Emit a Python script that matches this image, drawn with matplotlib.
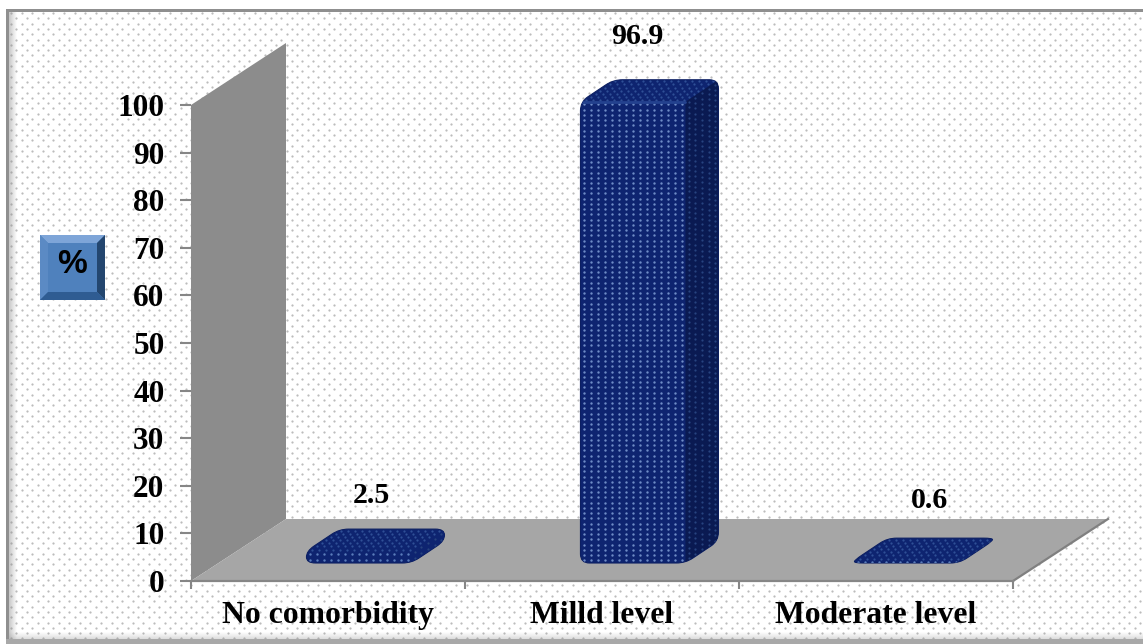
import numpy as np
import matplotlib
matplotlib.use("Agg")
import matplotlib.pyplot as plt
from matplotlib.patches import Polygon, Rectangle, PathPatch
from matplotlib.path import Path

categories = ["No comorbidity", "Milld level", "Moderate level"]
percent = [2.5, 96.9, 0.6]
y_ticks = list(range(0, 101, 10))

W, H = 1143, 644
SERIF = "Liberation Serif"

# 3D-look geometry, in data units of the front plane (px / 274 per category, px / 4.76 per percent)
PX_X = 274.0
PX_Y = 4.76
WALL_DX = 95 / PX_X
WALL_DY = 62 / PX_Y
BAR_W = 105 / PX_X
BAR_DX = 33 / PX_X
BAR_DY = 22 / PX_Y
BAR_SHIFT = 0.113
BAR_BASE = 18 / PX_Y
CORNER = 9.0

# label offsets from the back-left corner of each bar top, in points
label_offsets = [(23, 24.5), (17, 31), (30, 27)]

fig = plt.figure(figsize=(W / 100, H / 100), dpi=100, facecolor="white")

# page background: dotted fill plus frame, drawn in pixels
bg = fig.add_axes([0, 0, 1, 1], zorder=0)
bg.set_xlim(0, W)
bg.set_ylim(H, 0)
bg.axis("off")

dx_bg, dy_bg = 10.6, 5.3
rows = np.arange(13, 640, dy_bg)
xs, ys = [], []
for k, yy in enumerate(rows):
    col = np.arange(11 + (k % 2) * dx_bg / 2, W, dx_bg)
    xs.extend(col)
    ys.extend([yy] * len(col))
bg.scatter(xs, ys, s=2.6, color="#bcbcbc", linewidths=0)

# soft inner shadow along the left and bottom edge
for i, a in enumerate(np.linspace(0.45, 0.03, 8)):
    bg.add_patch(Rectangle((9 + i, 10), 1, 630, color="#8a8a8a", alpha=a, lw=0))
    bg.add_patch(Rectangle((9, 639 - i), W, 1, color="#8a8a8a", alpha=a * 0.7, lw=0))
bg.add_patch(Rectangle((6, 9), 3, 631, color="#8f8f8f", lw=0))
bg.add_patch(Rectangle((6, 9), W, 3, color="#8f8f8f", lw=0))
bg.add_patch(Rectangle((6, 639), W, 5, color="#a8a8a8", lw=0))

# "%" badge with bevelled edges
bx0, by0, bx1, by1, bev = 40, 235, 105, 300, 8
bg.add_patch(Rectangle((bx0, by0), bx1 - bx0, by1 - by0, color="#4f81bd", lw=0))
bg.add_patch(Polygon([(bx0, by0), (bx1, by0), (bx1 - bev, by0 + bev), (bx0 + bev, by0 + bev)], color="#7ea5d8", lw=0))
bg.add_patch(Polygon([(bx0, by0), (bx0 + bev, by0 + bev), (bx0 + bev, by1 - bev), (bx0, by1)], color="#5b8ac4", lw=0))
bg.add_patch(Polygon([(bx1, by0), (bx1, by1), (bx1 - bev, by1 - bev), (bx1 - bev, by0 + bev)], color="#23466f", lw=0))
bg.add_patch(Polygon([(bx0, by1), (bx1, by1), (bx1 - bev, by1 - bev), (bx0 + bev, by1 - bev)], color="#2f5c92", lw=0))
bg.text(72, 264, "%", fontsize=24, fontweight="bold", family="Liberation Sans",
        ha="center", va="center", color="black")

# chart axes sit on the front plane of the 3D box
left, right, bottom, top = 191, 1013, 581, 105
ax = fig.add_axes([left / W, 1 - bottom / H, (right - left) / W, (bottom - top) / H], zorder=1)
ax.patch.set_visible(False)
ax.set_xlim(0, 3)
ax.set_ylim(0, 100)
ax.set_autoscale_on(False)

for side in ["top", "right", "left"]:
    ax.spines[side].set_visible(False)
ax.spines["bottom"].set_color("#868686")
ax.spines["bottom"].set_linewidth(1.6)

ax.set_yticks(y_ticks)
ax.set_yticklabels([str(v) for v in y_ticks], fontsize=22.5, fontweight="bold", family=SERIF)
ax.set_xticks(range(len(categories) + 1))
ax.set_xticklabels([""] * (len(categories) + 1))
ax.tick_params(axis="y", length=8, width=1.5, color="#868686", pad=11)
ax.tick_params(axis="x", length=6, width=1.5, color="#868686")

# back wall and floor
ax.add_patch(Polygon([(0, 100), (WALL_DX, 100 + WALL_DY), (WALL_DX, WALL_DY), (0, 0)],
                     closed=True, color="#8c8c8c", lw=0, clip_on=False, zorder=1))
ax.add_patch(Polygon([(0, 0), (3, 0), (3 + WALL_DX, WALL_DY), (WALL_DX, WALL_DY)],
                     closed=True, color="#a6a6a6", lw=0, clip_on=False, zorder=1))
ax.plot([3, 3 + WALL_DX], [0, WALL_DY], color="#808080", lw=1.6, clip_on=False, zorder=1.5)


def rounded_outline(pts):
    """Closed path through pts with each corner replaced by a small curve."""
    pts = [np.array(p, dtype=float) for p in pts]
    n = len(pts)
    verts, codes = [], []
    for k in range(n):
        prev_p, p, next_p = pts[k - 1], pts[k], pts[(k + 1) % n]
        a, b = prev_p - p, next_p - p
        len_a = np.hypot(a[0] * PX_X, a[1] * PX_Y)
        len_b = np.hypot(b[0] * PX_X, b[1] * PX_Y)
        start = p + a * min(CORNER / len_a, 0.5)
        end = p + b * min(CORNER / len_b, 0.5)
        verts.append(start)
        codes.append(Path.MOVETO if k == 0 else Path.LINETO)
        verts.extend([p, end])
        codes.extend([Path.CURVE3, Path.CURVE3])
    verts.append(verts[0])
    codes.append(Path.CLOSEPOLY)
    return Path(verts, codes)


def clip_to(artist, patch):
    # drop the axes box as well, the bar tops reach above ylim
    artist.set_clip_path(patch)
    artist.set_clip_box(None)


def dot_grid(o, u, v, step_v, color, size, zorder, clip):
    """Regular dot texture across the parallelogram o, o+u, o+u+v, o+v."""
    o, u, v = np.array(o), np.array(u), np.array(v)
    len_u = np.hypot(u[0] * PX_X, u[1] * PX_Y)
    len_v = np.hypot(v[0] * PX_X, v[1] * PX_Y)
    nu = max(int(len_u / 7), 1)
    nv = max(int(len_v / step_v), 1)
    grid = np.array([o + (a + 0.5) / nu * u + (b + 0.5) / nv * v
                     for a in range(nu) for b in range(nv)])
    dots = ax.scatter(grid[:, 0], grid[:, 1], s=size, color=color, linewidths=0, zorder=zorder)
    clip_to(dots, clip)


for i, val in enumerate(percent):
    x0 = i + 0.5 + BAR_SHIFT - BAR_W / 2
    x1 = x0 + BAR_W
    y0 = BAR_BASE
    y1 = BAR_BASE + val

    outline = PathPatch(rounded_outline([(x0, y0), (x1, y0), (x1 + BAR_DX, y0 + BAR_DY),
                                         (x1 + BAR_DX, y1 + BAR_DY), (x0 + BAR_DX, y1 + BAR_DY),
                                         (x0, y1)]),
                        facecolor="#0e2470", edgecolor="#0c1f62", lw=0.8, clip_on=False, zorder=3)
    ax.add_patch(outline)

    # the tall bar shows a darker side; the flat ones read as a single dim slab
    tall = val > 10
    side = Polygon([(x1, y0), (x1 + BAR_DX, y0 + BAR_DY), (x1 + BAR_DX, y1 + BAR_DY), (x1, y1)],
                   closed=True, facecolor="#0a1a52" if tall else "#0e2470", lw=0, zorder=3.1)
    ax.add_patch(side)
    clip_to(side, outline)

    dot_grid((x1, y0), (BAR_DX, BAR_DY), (0, val), 5.2, "#27437f", 2.6, 3.2, outline)
    dot_grid((x0, y1), (BAR_W, 0), (BAR_DX, BAR_DY), 5.2, "#2f4f96", 2.6, 3.2, outline)
    dot_grid((x0, y0), (BAR_W, 0), (0, val), 5.2, "#6f8cc6" if tall else "#5b7dbb", 3.0, 3.2, outline)

    if tall:
        ridge = ax.plot([x0, x1], [y1, y1], color="#24428f", lw=2.0, zorder=3.3,
                        solid_capstyle="round")[0]
        clip_to(ridge, outline)

    ax.annotate(str(val), xy=(x0 + BAR_DX, y1 + BAR_DY), xytext=label_offsets[i],
                textcoords="offset points", ha="center", va="center", fontsize=21.5,
                fontweight="bold", family=SERIF, color="black", annotation_clip=False)

# category labels below the axis
for i, name in enumerate(categories):
    ax.annotate(name, xy=(i + 0.5, 0), xytext=(0, -24.5), textcoords="offset points",
                ha="center", va="center", fontsize=22.8, fontweight="bold", family=SERIF,
                annotation_clip=False)

fig.savefig("out.png", dpi=100)
